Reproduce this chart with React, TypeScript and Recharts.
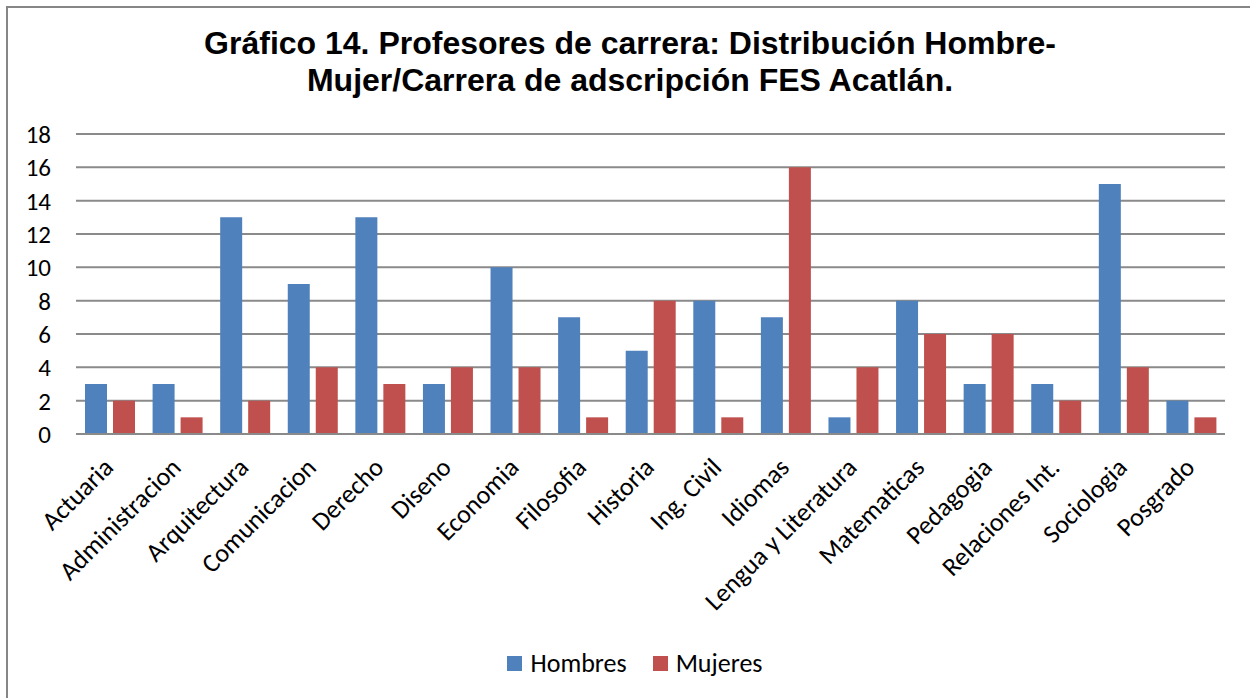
import { BarChart, Bar, XAxis, YAxis, CartesianGrid } from 'recharts'

const categories = [
  'Actuaria', 'Administracion', 'Arquitectura', 'Comunicacion', 'Derecho', 'Diseno',
  'Economia', 'Filosofia', 'Historia', 'Ing. Civil', 'Idiomas', 'Lengua y Literatura',
  'Matematicas', 'Pedagogia', 'Relaciones Int.', 'Sociologia', 'Posgrado',
]
const hombres = [3, 3, 13, 9, 13, 3, 10, 7, 5, 8, 7, 1, 8, 3, 3, 15, 2]
const mujeres = [2, 1, 2, 4, 3, 4, 4, 1, 8, 1, 16, 4, 6, 6, 2, 4, 1]
const yTicks = [0, 2, 4, 6, 8, 10, 12, 14, 16, 18]

const data = categories.map((name, i) => ({ name, Hombres: hombres[i], Mujeres: mujeres[i] }))

const BLUE = '#4F81BD'
const RED = '#C0504D'
const GRID = '#8a8a8a'
const FONT = 'Carlito, Calibri, Lato, sans-serif'

function CategoryTick({ x, y, payload }: any) {
  return (
    <text
      transform={`translate(${x + 5},${y + 35}) rotate(-45)`}
      textAnchor="end"
      fontSize={26}
      fontFamily={FONT}
      fill="#000"
    >
      {payload.value}
    </text>
  )
}

function LegendItem({ color, label, gap }: { color: string; label: string; gap: number }) {
  return (
    <div style={{ display: 'flex', alignItems: 'center', marginRight: gap }}>
      <div style={{ width: 15, height: 15, background: color, marginRight: 8 }} />
      <span>{label}</span>
    </div>
  )
}

export default function App() {
  return (
    <div style={{ position: 'absolute', left: 0, top: 0, width: 1250, height: 698, overflow: 'hidden', background: '#fff' }}>
      <div
        style={{
          position: 'absolute', left: 6, top: 6, width: 1260, height: 720,
          border: '2px solid #868686', boxSizing: 'border-box',
        }}
      />
      <div
        style={{
          position: 'absolute', left: 0, top: 25, width: 1260, textAlign: 'center',
          fontFamily: '"Liberation Sans", Arial, sans-serif', fontWeight: 'bold',
          fontSize: 32, lineHeight: '37px', color: '#000',
        }}
      >
        Gráfico 14. Profesores de carrera: Distribución Hombre-
        <br />
        Mujer/Carrera de adscripción FES Acatlán.
      </div>
      <div style={{ position: 'absolute', left: 0, top: 0 }}>
        <BarChart
          width={1250}
          height={698}
          data={data}
          margin={{ top: 134, right: 25, left: 0, bottom: 0 }}
          barSize={22}
          barGap={6}
        >
          <CartesianGrid vertical={false} stroke={GRID} strokeWidth={2} />
          <XAxis
            dataKey="name"
            interval={0}
            height={264}
            tickSize={0}
            tickMargin={0}
            tick={<CategoryTick />}
            axisLine={{ stroke: GRID, strokeWidth: 2 }}
            tickLine={false}
          />
          <YAxis
            width={76}
            domain={[0, 18]}
            ticks={yTicks}
            interval={0}
            tickSize={0}
            tickMargin={25}
            axisLine={false}
            tickLine={false}
            tick={{ fontSize: 25, fill: '#000', fontFamily: FONT }}
          />
          <Bar dataKey="Hombres" fill={BLUE} isAnimationActive={false} />
          <Bar dataKey="Mujeres" fill={RED} isAnimationActive={false} />
        </BarChart>
      </div>
      <div
        style={{
          position: 'absolute', left: 0, top: 648, width: 1270, display: 'flex', justifyContent: 'center',
          fontFamily: FONT, fontSize: 26, lineHeight: '30px', color: '#000',
        }}
      >
        <LegendItem color={BLUE} label="Hombres" gap={26} />
        <LegendItem color={RED} label="Mujeres" gap={0} />
      </div>
    </div>
  )
}
